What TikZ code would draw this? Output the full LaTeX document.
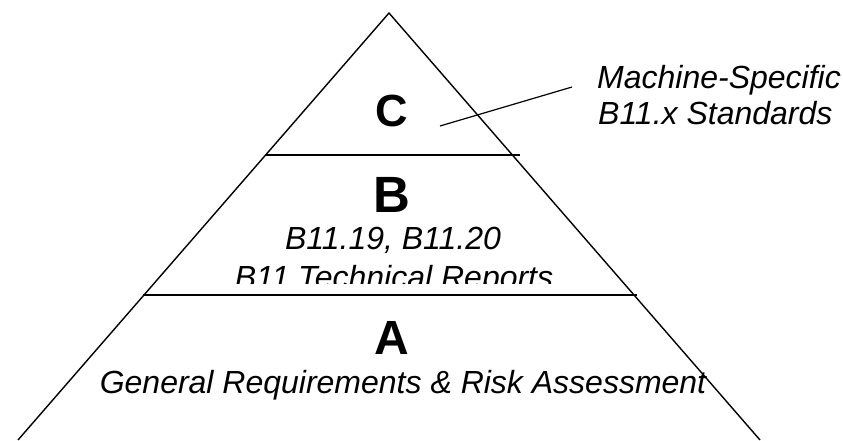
\documentclass[tikz,border=0pt]{standalone}
\usepackage{fontspec}
\setmainfont{Liberation Sans}
\begin{document}
\begin{tikzpicture}[x=1pt,y=-1pt,
  edge/.style={line width=1.4pt,black},
  bigletter/.style={font=\fontsize{48}{50}\selectfont\bfseries,inner sep=0pt,anchor=base},
  label/.style={font=\fontsize{32}{36}\selectfont\itshape,inner sep=0pt,anchor=base}]
\useasboundingbox (0,0) rectangle (843,440);
\begin{scope}
\clip (0,0) rectangle (843,440);
% pyramid
\coordinate (apex) at (389,13);
\coordinate (bl) at (18,440);
\coordinate (br) at (760,440);
\draw[edge,line join=miter] (bl) -- (apex) -- (br);
\coordinate (c1l) at (265,155);
\coordinate (c1r) at (520,155);
\coordinate (c2l) at (143,295);
\coordinate (c2r) at (637,295);
\draw[edge] (c1l) -- (c1r);
\draw[edge] (c2l) -- (c2r);
\end{scope}
% level letters
\node[bigletter,font=\fontsize{45}{50}\selectfont\bfseries] (C) at (392,126) {C};
\node[bigletter,font=\fontsize{51}{54}\selectfont\bfseries] (B) at (392,212) {B};
\node[bigletter] (A) at (392,354) {A};
% B texts
\node[label] (b1) at (393,249) {B11.19, B11.20};
\begin{scope}
\clip (0,0) rectangle (843,283);
\node[label] (b2) at (394,288) {B11 Technical Reports};
\end{scope}
% A text
\node[label] (a1) at (403,393) {General Requirements \& Risk Assessment};
% callout
\node[label,anchor=base west] (m1) at (597,88) {Machine-Specific};
\node[label,anchor=base west] (m2) at (598,124) {B11.x Standards};
\coordinate (cs) at (440,126);
\coordinate (ce) at (572,87);
\draw[line width=1.2pt] (cs) -- (ce);
\end{tikzpicture}
\end{document}
